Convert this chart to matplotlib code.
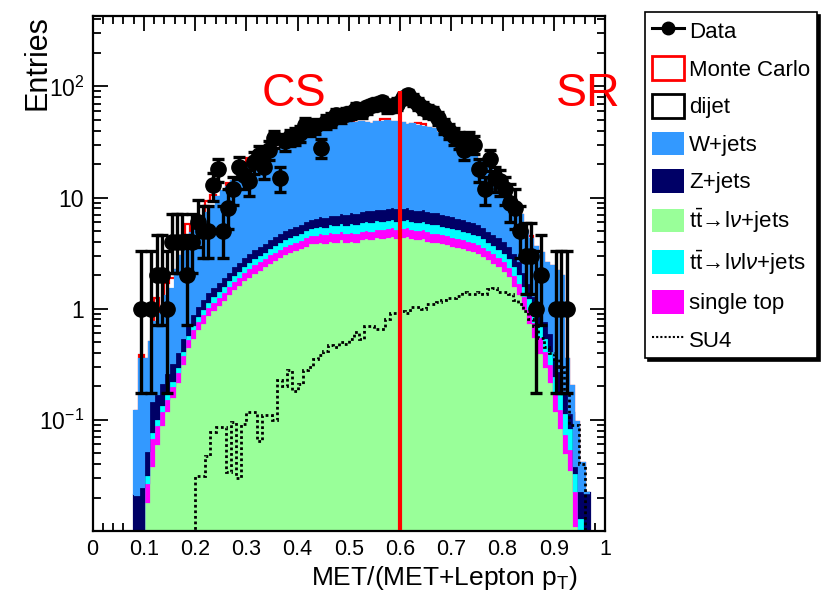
import numpy as np
import matplotlib
matplotlib.use("Agg")
import matplotlib.pyplot as plt
from matplotlib.lines import Line2D
from matplotlib.patches import Patch
from matplotlib.ticker import MultipleLocator, LogLocator, NullFormatter

plt.rcParams["font.family"] = ["Liberation Sans", "DejaVu Sans"]
plt.rcParams["mathtext.fontset"] = "custom"
plt.rcParams["mathtext.rm"] = "Liberation Sans"
plt.rcParams["mathtext.it"] = "Liberation Sans:italic"

# bins 0.08 .. 0.97, width 0.01
edges = np.arange(8, 98) / 100.0

ttbar_lv = [
    0, 0,
    0.018, 0.038, 0.06, 0.09, 0.12, 0.16, 0.22, 0.32, 0.45, 0.55,
    0.65, 0.75, 0.87, 0.98, 1.08, 1.2, 1.35, 1.5, 1.64, 1.8,
    1.94, 2.1, 2.25, 2.4, 2.6, 2.75, 2.9, 3.1, 3.25, 3.35,
    3.5, 3.7, 3.9, 3.9, 4.0, 3.9, 4.1, 4.0, 4.2, 4.0,
    4.1, 4.0, 4.2, 4.3, 4.2, 4.4, 4.3, 4.4, 4.5, 4.3,
    4.4, 4.5, 4.3, 4.2, 4.3, 4.1, 4.0, 4.0, 3.9, 3.8,
    3.7, 3.6, 3.5, 3.4, 3.3, 3.2, 3.0, 2.8, 2.6, 2.4,
    2.2, 1.95, 1.6, 1.35, 1.0, 0.75, 0.56, 0.40, 0.30, 0.22,
    0.12, 0.085, 0.05, 0.035, 0.011, 0, 0,
]
single_top = [
    0, 0,
    0.009, 0.03, 0.03, 0.03, 0.035, 0.04, 0.05, 0.06, 0.08, 0.1,
    0.12, 0.14, 0.16, 0.18, 0.2, 0.22, 0.25, 0.28, 0.3, 0.33,
    0.36, 0.4, 0.42, 0.45, 0.5, 0.52, 0.55, 0.58, 0.6, 0.63,
    0.66, 0.7, 0.72, 0.74, 0.76, 0.76, 0.78, 0.8, 0.8, 0.8,
    0.82, 0.82, 0.84, 0.85, 0.85, 0.86, 0.86, 0.87, 0.88, 0.88,
    0.88, 0.88, 0.87, 0.86, 0.86, 0.85, 0.84, 0.82, 0.8, 0.78,
    0.76, 0.74, 0.72, 0.7, 0.68, 0.65, 0.62, 0.58, 0.55, 0.52,
    0.48, 0.44, 0.4, 0.35, 0.3, 0.25, 0.2, 0.16, 0.12, 0.1,
    0.06, 0.04, 0.025, 0.02, 0.012, 0.008, 0,
]
ttbar_lvlv = [
    0, 0,
    0.005, 0.01, 0.012, 0.015, 0.02, 0.025, 0.03, 0.04, 0.05, 0.07,
    0.09, 0.1, 0.12, 0.14, 0.16, 0.18, 0.2, 0.23, 0.26, 0.29,
    0.32, 0.35, 0.38, 0.42, 0.45, 0.48, 0.52, 0.56, 0.6, 0.63,
    0.66, 0.7, 0.74, 0.78, 0.8, 0.82, 0.85, 0.88, 0.9, 0.92,
    0.94, 0.95, 0.96, 0.98, 0.98, 1.0, 1.0, 1.0, 1.0, 1.0,
    1.0, 1.0, 1.0, 0.98, 0.97, 0.96, 0.95, 0.93, 0.9, 0.88,
    0.86, 0.84, 0.8, 0.78, 0.75, 0.72, 0.68, 0.64, 0.6, 0.56,
    0.52, 0.48, 0.42, 0.36, 0.3, 0.25, 0.2, 0.16, 0.13, 0.1,
    0.07, 0.05, 0.04, 0.03, 0.01, 0.005, 0,
]
z_jets = [
    0.021, 0.025,
    0.02, 0.07, 0.07, 0.08, 0.09, 0.1, 0.11, 0.13, 0.15, 0.17,
    0.2, 0.22, 0.25, 0.28, 0.3, 0.33, 0.36, 0.4, 0.44, 0.48,
    0.52, 0.56, 0.6, 0.65, 0.7, 0.75, 0.8, 0.85, 0.9, 0.95,
    1.0, 1.05, 1.1, 1.15, 1.2, 1.25, 1.3, 1.35, 1.4, 1.45,
    1.5, 1.55, 1.6, 1.62, 1.65, 1.7, 1.72, 1.75, 1.78, 1.8,
    1.8, 1.8, 1.78, 1.75, 1.72, 1.7, 1.65, 1.6, 1.55, 1.5,
    1.45, 1.4, 1.35, 1.3, 1.25, 1.2, 1.1, 1.0, 0.95, 0.9,
    0.85, 0.8, 0.72, 0.65, 0.55, 0.45, 0.35, 0.28, 0.22, 0.18,
    0.12, 0.1, 0.06, 0.03, 0.005, 0.01, 0.022,
]
w_jets = [
    0.10, 0.33,
    0.30, 0.35, 0.58, 0.69, 1.03, 1.18, 1.8, 2.45, 3.07, 3.9,
    4.45, 5.3, 5.9, 6.9, 8.3, 9.6, 10.3, 11.6, 12.7, 14.1,
    15.9, 17.1, 18.4, 19.1, 20.8, 22.5, 23.2, 23.9, 24.6, 25.4,
    26.2, 29.8, 30.5, 30.4, 31.2, 35.3, 38, 37, 38.7, 37.8,
    39.6, 39.7, 40.4, 39.3, 38.3, 40, 40.1, 41, 39.8, 40,
    38.9, 36.8, 38, 36.2, 35.2, 34.4, 33.6, 30.6, 28.9, 27,
    25.2, 23.4, 22.6, 20.8, 19, 16.2, 15.6, 14, 12.3, 10.6,
    8, 6.3, 4.9, 4.3, 2.9, 2.5, 2.3, 2.2, 1.8, 1.8,
    1.8, 1.7, 0.18, 0.085, 0.057, 0.018, 0,
]
# dijet: hollow, only seen where the red MC total pokes above the stack
dijet = [
    0, 0.03,
    0, 0, 0.5, 0, 0.4, 0.4, 0, 0, 2.0, 0,
    0, 0, 2.0, 2.0, 0, 0, 1.0, 0, 0, 3.0,
    3.5, 0, 0, 2.5, 0, 0, 0, 3.0, 0, 0,
    0, 3.0, 0, 0, 0, 0, 0, 0, 0, 0,
    2.0, 0, 0, 0, 0, 0, 3.0, 2.0, 0, 0,
    0, 0, 0, 3.0, 3.0, 0, 0, 0, 0, 2.5,
    0, 0, 0, 0, 0, 0, 0, 1.5, 0, 0,
    0, 0, 0, 0, 0, 0.3, 0, 0, 0, 0,
    0, 0, 0, 0, 0, 0, 0,
]
# SU4 signal (dotted), 0.001 = below the axis
su4 = [
    0.001, 0.001,
    0.001, 0.001, 0.001, 0.001, 0.001, 0.001, 0.001, 0.001, 0.001, 0.001,
    0.031, 0.031, 0.047, 0.078, 0.087, 0.087, 0.034, 0.095, 0.03, 0.092,
    0.118, 0.118, 0.064, 0.11, 0.11, 0.10, 0.23, 0.2, 0.28, 0.18,
    0.21, 0.28, 0.3, 0.35, 0.38, 0.42, 0.47, 0.45, 0.5, 0.48,
    0.53, 0.62, 0.53, 0.7, 0.7, 0.66, 0.66, 0.8, 0.92, 0.92,
    0.95, 0.92, 1.04, 1.04, 1.0, 1.1, 1.1, 1.15, 1.2, 1.25,
    1.25, 1.3, 1.4, 1.35, 1.35, 1.4, 1.35, 1.5, 1.55, 1.4,
    1.4, 1.35, 1.2, 1.1, 0.95, 0.8, 0.7, 0.55, 0.45, 0.4,
    0.35, 0.3, 0.175, 0.09, 0.09, 0.04, 0.001,
]
data = [
    0, 1,
    0, 1, 2, 2, 1, 4, 4, 4, 2, 4,
    6, 5, 5, 13, 18, 5, 8, 12, 19, 16,
    14, 21, 24, 19, 27, 34, 15, 32, 35, 36,
    38, 45, 42, 44, 28, 48, 50, 55, 54, 57,
    58, 63, 60, 65, 68, 70, 72, 66, 67, 70,
    79, 84, 76, 70, 64, 60, 58, 52, 44, 40,
    36, 33, 27, 33, 30, 18, 12, 22, 15, 14,
    12, 9, 8, 5, 3, 3, 1, 2, 0, 0,
    1, 1, 1, 0, 0, 0, 0,
]

# 68% Poisson (Garwood) intervals for small counts
poisson_lo = {1: 0.173, 2: 0.708, 3: 1.367, 4: 2.086, 5: 2.840, 6: 3.620,
              7: 4.419, 8: 5.232, 9: 6.057, 10: 6.891}
poisson_hi = {1: 3.300, 2: 4.638, 3: 5.918, 4: 7.163, 5: 8.382, 6: 9.584,
              7: 10.77, 8: 11.95, 9: 13.11, 10: 14.27}

COLORS = {
    "W+jets": "#3399ff",
    "Z+jets": "#000066",
    "ttlv": "#99ff99",
    "ttlvlv": "#00ffff",
    "single top": "#ff00ff",
}

fig = plt.figure(figsize=(8.29, 5.95), dpi=100)
ax = fig.add_axes([0.1116, 0.1076, 0.6182, 0.8655])
ax.set_yscale("log")

layers = [
    (ttbar_lv, COLORS["ttlv"]),
    (single_top, COLORS["single top"]),
    (ttbar_lvlv, COLORS["ttlvlv"]),
    (z_jets, COLORS["Z+jets"]),
    (w_jets, COLORS["W+jets"]),
]
base = np.full(len(edges) - 1, 1e-4)
for vals, col in layers:
    top = base + np.asarray(vals)
    ax.stairs(top, edges, baseline=base, fill=True, facecolor=col,
              edgecolor=col, lw=1.6, zorder=2)
    base = top

# Monte Carlo total (red) sits behind the stack
mc_total = base + np.asarray(dijet)
ax.stairs(mc_total, edges, baseline=None, color="red", lw=1.6, zorder=1)

ax.stairs(su4, edges, baseline=None, color="black", lw=2.0, ls=(0, (1, 1)), zorder=3)

# data points
d = np.asarray(data, dtype=float)
centers = 0.5 * (edges[:-1] + edges[1:])
m = d > 0
lo = np.array([n - poisson_lo[n] if n in poisson_lo else np.sqrt(n) for n in d[m].astype(int)])
hi = np.array([poisson_hi[n] - n if n in poisson_hi else np.sqrt(n) for n in d[m].astype(int)])
ax.errorbar(centers[m], d[m], yerr=[lo, hi], fmt="o", color="black", ms=11,
            elinewidth=2.4, capsize=4, capthick=2.4, zorder=5)

# CS / SR divider
ax.vlines(0.6, 0.0101, 90, color="red", lw=3, zorder=6)
ax.text(0.33, 85, "CS", color="red", fontsize=33.5, va="center", ha="left", zorder=7)
ax.text(0.905, 85, "SR", color="red", fontsize=33.5, va="center", ha="left",
        zorder=7, clip_on=False)

ax.set_xlim(0, 1)
ax.set_ylim(0.01, 430)
ax.xaxis.set_minor_locator(MultipleLocator(0.02))
ax.set_xticks(np.arange(0, 11) / 10)
ax.set_xticklabels(["0", "0.1", "0.2", "0.3", "0.4", "0.5", "0.6", "0.7", "0.8", "0.9", "1"])
ax.set_yticks([0.1, 1, 10, 100])
ax.set_yticklabels([r"10$^{-1}$", "1", "10", r"10$^{2}$"])
ax.yaxis.set_minor_locator(LogLocator(base=10, subs=np.arange(2, 10)))
ax.yaxis.set_minor_formatter(NullFormatter())
ax.tick_params(which="both", direction="in", top=True, right=True, width=1.3)
ax.tick_params(axis="x", labelsize=15.5, pad=6)
ax.tick_params(axis="y", labelsize=16.5, pad=6)
ax.tick_params(which="major", length=11)
ax.tick_params(which="minor", length=5.5)
for sp in ax.spines.values():
    sp.set_linewidth(1.6)

fig.text(578 / 829, 1 - 578 / 595, r"MET/(MET+Lepton p$_\mathrm{T}$)",
         fontsize=19, ha="right", va="center")
fig.text(37 / 829, 1 - 15 / 595, "Entries", fontsize=22, rotation=90,
         ha="center", va="top")

handles = [
    Line2D([], [], color="black", marker="o", ms=9, lw=2.2),
    Patch(facecolor="white", edgecolor="red", lw=2),
    Patch(facecolor="white", edgecolor="black", lw=2),
    Patch(facecolor=COLORS["W+jets"]),
    Patch(facecolor=COLORS["Z+jets"]),
    Patch(facecolor=COLORS["ttlv"]),
    Patch(facecolor=COLORS["ttlvlv"]),
    Patch(facecolor=COLORS["single top"]),
    Line2D([], [], color="black", lw=1.5, ls=(0, (1, 1))),
]
labels = [
    "Data", "Monte Carlo", "dijet", "W+jets", "Z+jets",
    r"t$\bar{\mathrm{t}}\!\rightarrow\!$l$\nu$+jets",
    r"t$\bar{\mathrm{t}}\!\rightarrow\!$l$\nu$l$\nu$+jets",
    "single top", "SU4",
]
leg = fig.legend(handles, labels, loc="upper left", bbox_to_anchor=(645 / 829, 1 - 12 / 595),
                 fontsize=16, frameon=True, fancybox=False, edgecolor="black",
                 shadow={"color": "black", "alpha": 1.0}, handlelength=1.44,
                 handleheight=1.26, labelspacing=0.6, handletextpad=0.25,
                 borderpad=0.3, borderaxespad=0)
leg.get_frame().set_linewidth(1.2)

fig.savefig("out.png", dpi=100)
